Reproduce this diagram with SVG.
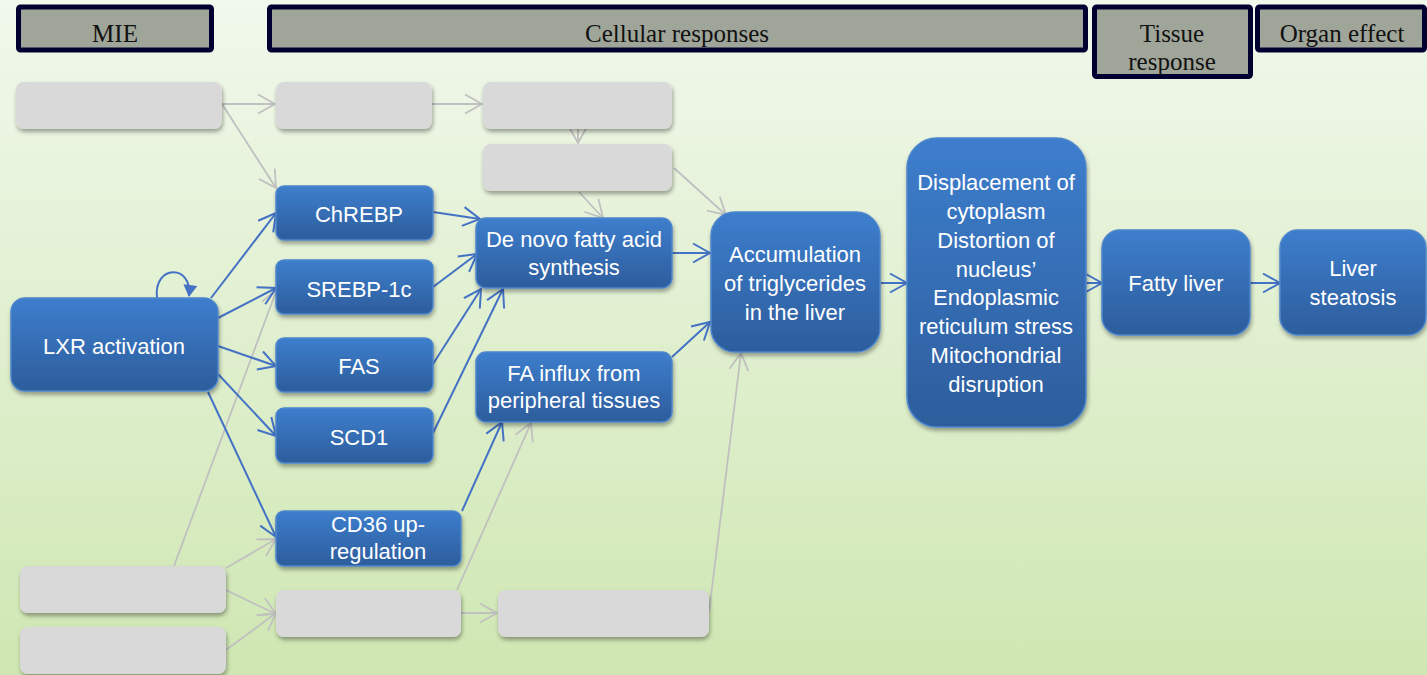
<svg xmlns="http://www.w3.org/2000/svg" width="1427" height="675" viewBox="0 0 1427 675">
<defs>
<linearGradient id="bg" x1="0" y1="0" x2="0" y2="1">
<stop offset="0" stop-color="#f1f8ec"/>
<stop offset="1" stop-color="#cfe7b2"/>
</linearGradient>
<linearGradient id="blue" x1="0" y1="0" x2="0" y2="1">
<stop offset="0" stop-color="#3d7ecd"/>
<stop offset="1" stop-color="#2d5d9c"/>
</linearGradient>
<filter id="sh" x="-10%" y="-10%" width="120%" height="130%">
<feDropShadow dx="1" dy="3" stdDeviation="2" flood-color="#000" flood-opacity="0.35"/>
</filter>
<marker id="ab" markerWidth="20" markerHeight="20" refX="17" refY="9.5" orient="auto" markerUnits="userSpaceOnUse" overflow="visible">
<path d="M0,0 L17,9.5 L0,19" fill="none" stroke="#4472c4" stroke-width="2"/>
</marker>
<marker id="ag" markerWidth="20" markerHeight="20" refX="17" refY="9.5" orient="auto" markerUnits="userSpaceOnUse" overflow="visible">
<path d="M0,0 L17,9.5 L0,19" fill="none" stroke="#c0c0c0" stroke-width="1.8"/>
</marker>
<marker id="af" markerWidth="16" markerHeight="16" refX="11" refY="7" orient="auto" markerUnits="userSpaceOnUse" overflow="visible">
<path d="M0,0 L12,7 L0,14 Z" fill="#4472c4"/>
</marker>
</defs>
<style>
.hdr{fill:#a0a59a;stroke:#000030;stroke-width:5}
.ht{font-family:"Liberation Serif",serif;font-size:25px;fill:#111;text-anchor:middle}
.gb{fill:#d9d9d9;filter:url(#sh)}
.bb{fill:url(#blue);stroke:#4d86cc;stroke-width:1.5;filter:url(#sh)}
.bt{font-family:"Liberation Sans",Arial,sans-serif;font-size:22px;fill:#fff;text-anchor:middle}
.cb{fill:none;stroke:#4472c4;stroke-width:2;marker-end:url(#ab)}
.cg{fill:none;stroke:#c0c0c0;stroke-width:1.8;marker-end:url(#ag)}
</style>
<rect width="1427" height="675" fill="url(#bg)"/>

<g id="headers">
<g id="h-mie"><rect class="hdr" x="18.5" y="7" width="193" height="43" rx="2"/><text class="ht" x="115" y="42">MIE</text></g>
<g id="h-cell"><rect class="hdr" x="269.5" y="7" width="816" height="43" rx="2"/><text class="ht" x="677" y="42">Cellular responses</text></g>
<g id="h-tissue"><rect class="hdr" x="1094.5" y="7" width="156" height="69.5" rx="2"/><text class="ht" x="1172" y="42">Tissue</text><text class="ht" x="1172" y="70">response</text></g>
<g id="h-organ"><rect class="hdr" x="1257.5" y="7" width="167" height="43" rx="2"/><text class="ht" x="1342" y="42">Organ effect</text></g>
</g>

<g id="connectors">
<line class="cg" x1="222" y1="104" x2="275" y2="104"/>
<line class="cg" x1="222" y1="104" x2="276" y2="188"/>
<line class="cg" x1="428" y1="104" x2="482" y2="104"/>
<line class="cg" x1="578" y1="127" x2="578" y2="143"/>
<line class="cg" x1="579" y1="192" x2="603" y2="218"/>
<line class="cg" x1="674" y1="168" x2="726" y2="215"/>
<line class="cg" x1="174" y1="566" x2="277" y2="289"/>
<line class="cg" x1="226" y1="568" x2="276" y2="539"/>
<line class="cg" x1="226" y1="590" x2="276" y2="614"/>
<line class="cg" x1="226" y1="650" x2="276" y2="613"/>
<line class="cg" x1="457" y1="590" x2="531" y2="423"/>
<line class="cg" x1="461" y1="613" x2="497" y2="613"/>
<line class="cg" x1="709" y1="612" x2="741" y2="353"/>
<path class="cb" style="marker-end:url(#af)" d="M157,298 C153,264 193,264 189,296"/>
<line class="cb" x1="211" y1="298" x2="276" y2="213"/>
<line class="cb" x1="218" y1="318" x2="276" y2="288"/>
<line class="cb" x1="218" y1="346" x2="276" y2="366"/>
<line class="cb" x1="218" y1="374" x2="276" y2="436"/>
<line class="cb" x1="208" y1="392" x2="276" y2="537"/>
<line class="cb" x1="433" y1="212" x2="480" y2="219"/>
<line class="cb" x1="433" y1="287" x2="477" y2="254"/>
<line class="cb" x1="433" y1="364" x2="481" y2="289"/>
<line class="cb" x1="433" y1="433" x2="503" y2="289"/>
<line class="cb" x1="462" y1="511" x2="502" y2="422"/>
<line class="cb" x1="672" y1="253" x2="710" y2="253"/>
<line class="cb" x1="672" y1="357" x2="710" y2="322"/>
<line class="cb" x1="881" y1="283" x2="907" y2="283"/>
<line class="cb" x1="1086" y1="283" x2="1102" y2="283"/>
<line class="cb" x1="1250" y1="283" x2="1280" y2="283"/>
</g>

<g id="grey-nodes">
<g id="g1"><rect class="gb" x="16" y="82" width="206" height="47" rx="8"/></g>
<g id="g2"><rect class="gb" x="276" y="82" width="156" height="47" rx="8"/></g>
<g id="g3"><rect class="gb" x="483" y="82" width="189" height="47" rx="8"/></g>
<g id="g4"><rect class="gb" x="483" y="144" width="189" height="47" rx="8"/></g>
<g id="g5"><rect class="gb" x="20" y="566" width="206" height="47" rx="8"/></g>
<g id="g6"><rect class="gb" x="20" y="627" width="206" height="47" rx="8"/></g>
<g id="g7"><rect class="gb" x="276" y="590" width="185" height="47" rx="8"/></g>
<g id="g8"><rect class="gb" x="498" y="590" width="211" height="47" rx="8"/></g>
</g>

<g id="n-lxr"><rect class="bb" x="11" y="298" width="207" height="93" rx="14"/><text class="bt" x="114" y="354">LXR activation</text></g>
<g id="n-chrebp"><rect class="bb" x="276" y="186" width="157" height="54" rx="8"/><text class="bt" x="359" y="222">ChREBP</text></g>
<g id="n-srebp"><rect class="bb" x="276" y="260" width="157" height="54" rx="8"/><text class="bt" x="359" y="297">SREBP-1c</text></g>
<g id="n-fas"><rect class="bb" x="276" y="338" width="157" height="54" rx="8"/><text class="bt" x="359" y="374">FAS</text></g>
<g id="n-scd1"><rect class="bb" x="276" y="408" width="157" height="55" rx="8"/><text class="bt" x="359" y="445">SCD1</text></g>
<g id="n-cd36"><rect class="bb" x="276" y="511" width="185" height="55" rx="8"/><text class="bt" x="378" y="532">CD36 up-</text><text class="bt" x="378" y="559">regulation</text></g>
<g id="n-denovo"><rect class="bb" x="476" y="218" width="196" height="70" rx="10"/><text class="bt" x="574" y="247">De novo fatty acid</text><text class="bt" x="574" y="275">synthesis</text></g>
<g id="n-fainflux"><rect class="bb" x="476" y="352" width="196" height="70" rx="10"/><text class="bt" x="574" y="381">FA influx from</text><text class="bt" x="574" y="408">peripheral tissues</text></g>
<g id="n-accum"><rect class="bb" x="711" y="212" width="169" height="140" rx="24"/><text class="bt" x="795" y="262">Accumulation</text><text class="bt" x="795" y="291">of triglycerides</text><text class="bt" x="795" y="320">in the liver</text></g>
<g id="n-displ"><rect class="bb" x="907" y="138" width="179" height="289" rx="30"/>
<text class="bt" x="996" y="190">Displacement of</text>
<text class="bt" x="996" y="219">cytoplasm</text>
<text class="bt" x="996" y="248">Distortion of</text>
<text class="bt" x="996" y="277">nucleus’</text>
<text class="bt" x="996" y="305">Endoplasmic</text>
<text class="bt" x="996" y="334">reticulum stress</text>
<text class="bt" x="996" y="363">Mitochondrial</text>
<text class="bt" x="996" y="392">disruption</text></g>
<g id="n-fatty"><rect class="bb" x="1102" y="230" width="148" height="105" rx="18"/><text class="bt" x="1176" y="291">Fatty liver</text></g>
<g id="n-steat"><rect class="bb" x="1280" y="230" width="146" height="105" rx="18"/><text class="bt" x="1353" y="276">Liver</text><text class="bt" x="1353" y="305">steatosis</text></g>
</svg>
